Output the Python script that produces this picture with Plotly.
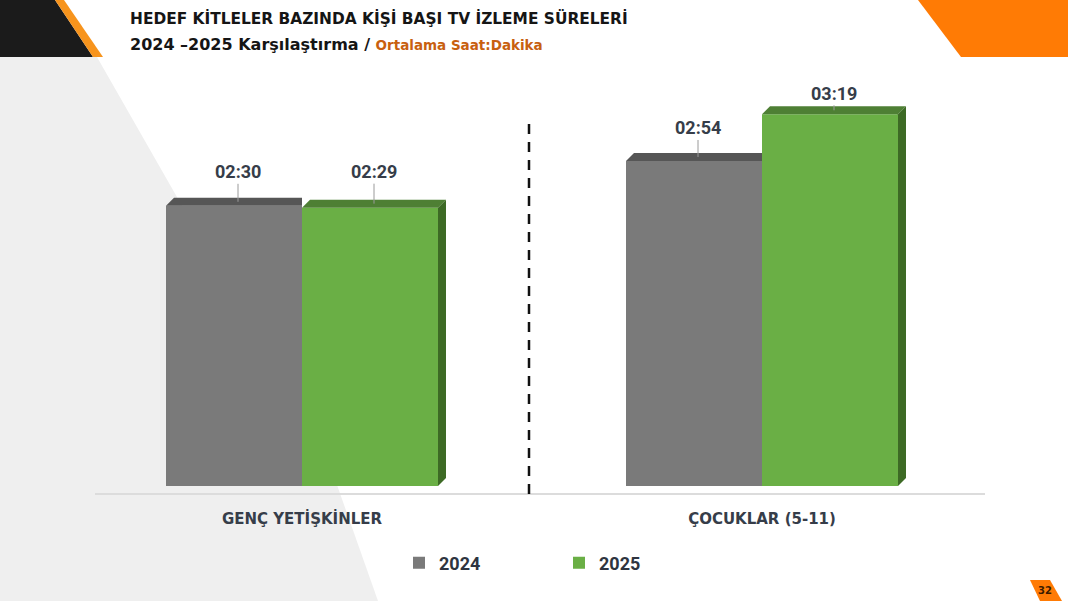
import plotly.graph_objects as go

# ---------------- data ----------------
categories = ["GENÇ YETİŞKİNLER", "ÇOCUKLAR (5-11)"]
series_names = ["2024", "2025"]
minutes_2024 = [150, 174]   # 02:30, 02:54
minutes_2025 = [149, 199]   # 02:29, 03:19

# ---------------- layout constants ----------------
W, H = 1068, 601
ML, MR, MT, MB = 72, 76, 86, 115
PW, PH = W - ML - MR, H - MT - MB
PX_PER_MIN = 1.868
YMAX = PH / PX_PER_MIN
CAT_PX = PW / 2.0            # pixels per category unit
BAR_PX = 136
BARGAP = 1 - 2 * BAR_PX / CAT_PX
BW = (1 - BARGAP) / 2        # bar width in data units
DX = 8 / CAT_PX              # 3D depth (x) in data units
DY = 8 / PX_PER_MIN          # 3D depth (y) in data units

C_GRAY = "#7a7a7a"
C_GRAY_TOP = "#565656"
C_GREEN = "#6aaf45"
C_GREEN_TOP = "#4e7f34"
C_GREEN_SIDE = "#3d6a25"
TXT = "#363d49"

# label offsets (pixels above the bar front top)
label_off_2024 = [-34, -33]
label_off_2025 = [-36, -21]


def fx(px):
    return (px - ML) / PW


def fy(py):
    return (H - MB - py) / PH


def hhmm(m):
    return f"{m // 60:02d}:{m % 60:02d}"


x_idx = list(range(len(categories)))

fig = go.Figure()
fig.add_trace(go.Bar(x=x_idx, y=minutes_2024, name=series_names[0],
                     marker=dict(color=C_GRAY, line=dict(width=0))))
fig.add_trace(go.Bar(x=x_idx, y=minutes_2025, name=series_names[1],
                     marker=dict(color=C_GREEN, line=dict(width=0))))

shapes = []
# background decorations (paper coords)
def poly(pts, color, layer="below"):
    path = "M " + " L ".join(f"{fx(a):.5f},{fy(b):.5f}" for a, b in pts) + " Z"
    return dict(type="path", xref="paper", yref="paper", path=path,
                fillcolor=color, line=dict(width=0), layer=layer)

shapes.append(poly([(0, 57), (97, 57), (330, 465), (378, 601), (0, 601)], "#efefef"))
shapes.append(poly([(0, 0), (55, 0), (93, 57), (0, 57)], "#1b1b1b"))
shapes.append(poly([(55, 0), (64, 0), (103, 57), (93, 57)], "#f7941d"))
shapes.append(poly([(918, 0), (1068, 0), (1068, 57), (961, 57)], "#ff7b05"))
shapes.append(poly([(1030, 580), (1050, 580), (1062, 601), (1040, 601)], "#ff7b05", "above"))

# baseline and separator
shapes.append(dict(type="line", xref="paper", yref="paper",
                   x0=fx(95), x1=fx(985), y0=fy(494), y1=fy(494),
                   line=dict(color="#dcdcdc", width=2), layer="below"))
shapes.append(dict(type="line", xref="paper", yref="paper",
                   x0=fx(529), x1=fx(529), y0=fy(124), y1=fy(500),
                   line=dict(color="#111111", width=2.5, dash="10px,8px")))

# 3D faces derived from data
def dpath(pts):
    return "M " + " L ".join(f"{a:.5f},{b:.5f}" for a, b in pts) + " Z"

for i, (v24, v25) in enumerate(zip(minutes_2024, minutes_2025)):
    g0, g1 = i - BW, i          # gray bar x extent
    n0, n1 = i, i + BW          # green bar x extent
    # gray top face (right part hidden behind green bar)
    shapes.append(dict(type="path", xref="x", yref="y",
                       path=dpath([(g0, v24), (g1, v24), (g1, v24 + DY), (g0 + DX, v24 + DY)]),
                       fillcolor=C_GRAY_TOP, line=dict(width=0), layer="above"))
    # green top face
    shapes.append(dict(type="path", xref="x", yref="y",
                       path=dpath([(n0, v25), (n1, v25), (n1 + DX, v25 + DY), (n0 + DX, v25 + DY)]),
                       fillcolor=C_GREEN_TOP, line=dict(width=0), layer="above"))
    # green side face
    shapes.append(dict(type="path", xref="x", yref="y",
                       path=dpath([(n1, 0), (n1, v25), (n1 + DX, v25 + DY), (n1 + DX, DY)]),
                       fillcolor=C_GREEN_SIDE, line=dict(width=0), layer="above"))

annotations = []
for i, (v24, v25) in enumerate(zip(minutes_2024, minutes_2025)):
    for xc, v, off in ((i - BW / 2 + DX / 2, v24, label_off_2024[i]),
                       (i + BW / 2 + DX / 2, v25, label_off_2025[i])):
        annotations.append(dict(x=xc, y=v, xref="x", yref="y", text=hhmm(v),
                                showarrow=True, arrowhead=0, arrowwidth=1,
                                arrowcolor="#9a9a9a", ax=0, ay=off, standoff=4,
                                font=dict(family="Roboto", size=18, color=TXT, weight="bold")))

annotations.append(dict(xref="paper", yref="paper", x=fx(128), y=fy(18),
                        xanchor="left", yanchor="middle", showarrow=False,
                        text="HEDEF KİTLELER BAZINDA KİŞİ BAŞI TV İZLEME SÜRELERİ",
                        font=dict(family="DejaVu Sans", size=15.4, color="#151515", weight="bold")))
annotations.append(dict(xref="paper", yref="paper", x=fx(128), y=fy(44),
                        xanchor="left", yanchor="middle", showarrow=False,
                        text="2024 –2025 Karşılaştırma / "
                             "<span style='color:#c8600f;font-size:13.5px'>Ortalama Saat:Dakika</span>",
                        font=dict(family="DejaVu Sans", size=16, color="#151515", weight="bold")))
annotations.append(dict(xref="paper", yref="paper", x=fx(1045), y=fy(590),
                        xanchor="center", yanchor="middle", showarrow=False, text="32",
                        font=dict(family="DejaVu Sans", size=10, color="#3a1c00", weight="bold")))

fig.update_layout(
    width=W, height=H,
    margin=dict(l=ML, r=MR, t=MT, b=MB, pad=0),
    paper_bgcolor="white", plot_bgcolor="rgba(0,0,0,0)",
    barmode="group", bargap=BARGAP, bargroupgap=0,
    showlegend=True,
    legend=dict(orientation="h", x=fx(399), xanchor="left", y=fy(563), yanchor="middle",
                entrywidth=115, entrywidthmode="pixels", bgcolor="rgba(0,0,0,0)",
                font=dict(family="Roboto", size=18, color="#2e3440", weight="bold")),
    xaxis=dict(range=[-0.5, 1.5], tickvals=x_idx, ticktext=categories,
               showgrid=False, zeroline=False, showline=False, ticks="",
               ticklabelstandoff=22,
               tickfont=dict(family="DejaVu Sans", size=15, color=TXT, weight="bold")),
    yaxis=dict(range=[0, YMAX], visible=False, showgrid=False, zeroline=False),
    shapes=shapes, annotations=annotations,
)

fig.write_html("out.html", config={"displayModeBar": False},
               post_script="document.body.style.margin='0';document.body.style.overflow='hidden';")
